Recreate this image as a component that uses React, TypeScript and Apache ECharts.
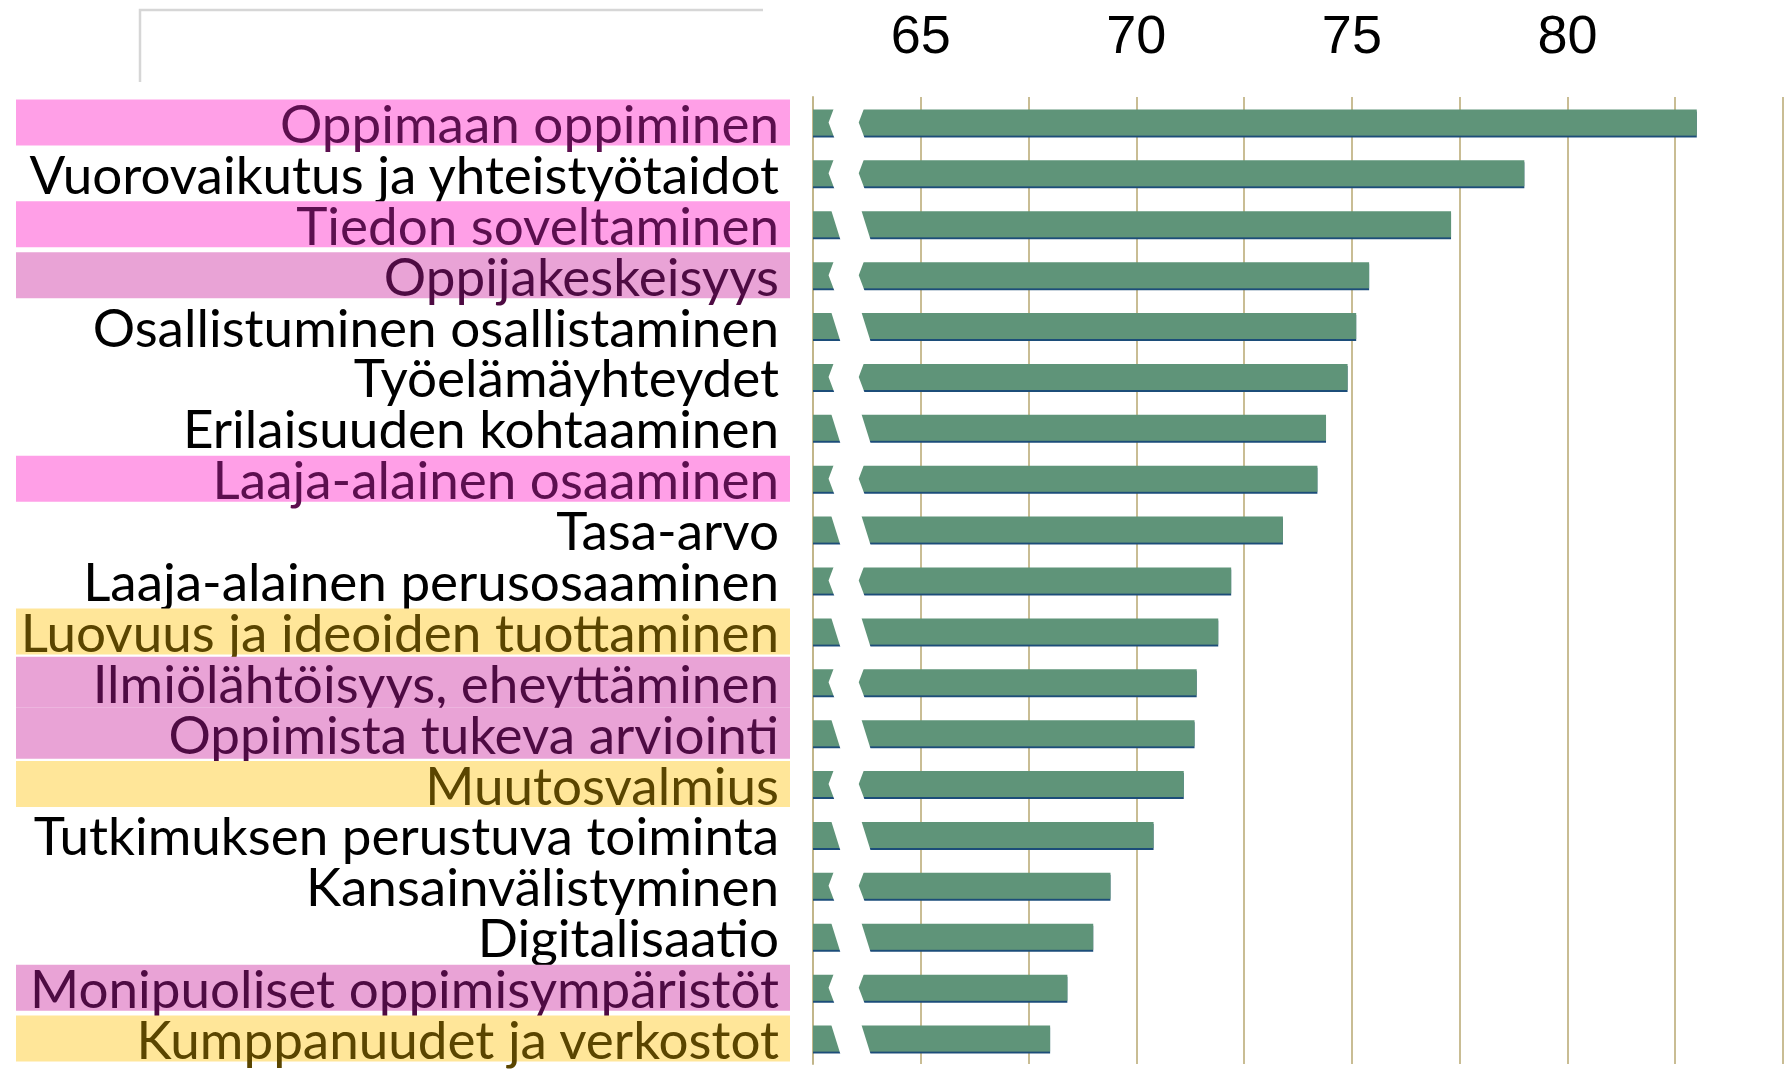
import React, { useEffect, useRef } from "react";
import * as echarts from "echarts";

const categories = [
  "Oppimaan oppiminen",
  "Vuorovaikutus ja yhteistyötaidot",
  "Tiedon soveltaminen",
  "Oppijakeskeisyys",
  "Osallistuminen osallistaminen",
  "Työelämäyhteydet",
  "Erilaisuuden kohtaaminen",
  "Laaja-alainen osaaminen",
  "Tasa-arvo",
  "Laaja-alainen perusosaaminen",
  "Luovuus ja ideoiden tuottaminen",
  "Ilmiölähtöisyys, eheyttäminen",
  "Oppimista tukeva arviointi",
  "Muutosvalmius",
  "Tutkimuksen perustuva toiminta",
  "Kansainvälistyminen",
  "Digitalisaatio",
  "Monipuoliset oppimisympäristöt",
  "Kumppanuudet ja verkostot",
];

const values = [83.0, 79.0, 77.3, 75.4, 75.1, 74.9, 74.4, 74.2, 73.4, 72.2, 71.9, 71.4, 71.35, 71.1, 70.4, 69.4, 69.0, 68.4, 68.0];

const tickLabels = [65, 70, 75, 80];

const pinkItems = ["Oppimaan oppiminen", "Tiedon soveltaminen", "Laaja-alainen osaaminen"];
const mauveItems = ["Oppijakeskeisyys", "Monipuoliset oppimisympäristöt"];
const mauveJoinedItems = ["Ilmiölähtöisyys, eheyttäminen", "Oppimista tukeva arviointi"];
const yellowItems = ["Luovuus ja ideoiden tuottaminen", "Muutosvalmius", "Kumppanuudet ja verkostot"];

const axisMin = 62.5;
const axisMax = 85;
const gridStep = 2.5;
const breakFrom = 63.0;
const breakTo = 63.7;

export default function App() {
  const ref = useRef<HTMLDivElement>(null);

  useEffect(() => {
    document.body.style.margin = "0";
    if (!ref.current) return;
    const chart = echarts.init(ref.current, null, { renderer: "svg" });

    const labelBase = {
      fontFamily: "Lato",
      fontSize: 53,
      width: 763,
      height: 46,
      lineHeight: 46,
      align: "right",
      padding: [0, 11, 0, 0],
    };

    const keyFor = (name: string) => {
      if (pinkItems.includes(name)) return "p";
      if (mauveItems.includes(name)) return "m";
      if (mauveJoinedItems.includes(name)) return "mj";
      if (yellowItems.includes(name)) return "y";
      return "n";
    };

    const option: any = {
      animation: false,
      backgroundColor: "#ffffff",
      grid: { left: 813, right: 8, top: 97, bottom: 12 },
      xAxis: {
        type: "value",
        position: "top",
        min: axisMin,
        max: axisMax,
        interval: gridStep,
        axisLine: { show: false },
        axisTick: { show: false },
        splitLine: { show: true, lineStyle: { color: "#C9BD94", width: 2 } },
        axisLabel: {
          margin: 36,
          fontFamily: "Liberation Sans",
          fontSize: 54,
          color: "#000000",
          formatter: (v: number) => (tickLabels.includes(v) ? String(v) : ""),
        },
      },
      yAxis: {
        type: "category",
        inverse: true,
        data: categories,
        axisTick: { show: false },
        axisLine: { show: true, lineStyle: { color: "#C2B68A", width: 2 } },
        axisLabel: {
          interval: 0,
          margin: 23,
          formatter: (name: string) => `{${keyFor(name)}|${name}}`,
          rich: {
            n: { ...labelBase, color: "#000000" },
            p: { ...labelBase, color: "#5C0F4F", backgroundColor: "#FF9FE7" },
            m: { ...labelBase, color: "#4E0B43", backgroundColor: "#E9A3D6" },
            mj: { ...labelBase, height: 51, lineHeight: 51, color: "#4E0B43", backgroundColor: "#E9A3D6" },
            y: { ...labelBase, color: "#5A4500", backgroundColor: "#FFE699" },
          },
        },
      },
      series: [
        {
          type: "bar",
          data: values,
          barWidth: 26,
          startValue: axisMin,
          itemStyle: {
            color: "#5E9479",
            shadowColor: "#1F4E79",
            shadowOffsetY: 2,
            shadowBlur: 0,
          },
          z: 2,
        },
        {
          type: "custom",
          silent: true,
          clip: false,
          z: 5,
          data: categories.map((_, i) => [breakFrom, i]),
          renderItem: (params: any, api: any) => {
            const i = api.value(1);
            const l = api.coord([breakFrom, i]);
            const r = api.coord([breakTo, i]);
            const h = 16;
            const top = l[1] - h;
            const bot = l[1] + h;
            const mid = l[1];
            const idx = params.dataIndex;
            let pts: number[][];
            if (idx > 0 && idx % 2 === 0) {
              pts = [
                [l[0] - 4, top],
                [l[0] + 6, bot],
                [r[0] + 6, bot],
                [r[0] - 4, top],
              ];
            } else {
              pts = [
                [l[0], top],
                [l[0] - 6, mid],
                [l[0], bot],
                [r[0], bot],
                [r[0] - 6, mid],
                [r[0], top],
              ];
            }
            return { type: "polygon", shape: { points: pts }, style: { fill: "#ffffff" } };
          },
        },
      ],
      graphic: [
        {
          type: "polyline",
          shape: { points: [[763, 10], [140, 10], [140, 82]] },
          style: { stroke: "#D6D6D6", lineWidth: 2.5, fill: null },
        },
      ],
    };

    chart.setOption(option);
    return () => chart.dispose();
  }, []);

  return (
    <div
      ref={ref}
      style={{ position: "fixed", left: 0, top: 0, width: 1791, height: 1076, background: "#fff" }}
    />
  );
}
